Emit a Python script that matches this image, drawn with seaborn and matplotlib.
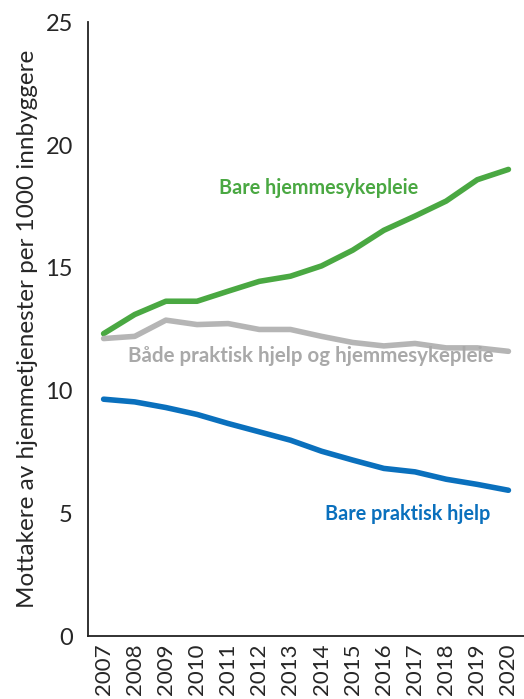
import matplotlib
matplotlib.use("Agg")
import matplotlib.pyplot as plt
import seaborn as sns
import pandas as pd

# values
years = list(range(2007, 2021))
bare_sykepleie = [12.32, 13.1, 13.64, 13.64, 14.05, 14.45, 14.66, 15.08, 15.72, 16.53, 17.11, 17.72, 18.59, 19.01]
begge = [12.12, 12.21, 12.87, 12.69, 12.73, 12.49, 12.49, 12.21, 11.96, 11.82, 11.92, 11.74, 11.74, 11.6]
bare_praktisk = [9.65, 9.54, 9.31, 9.03, 8.66, 8.32, 7.98, 7.53, 7.17, 6.83, 6.69, 6.39, 6.18, 5.94]

series_names = ["Bare hjemmesykepleie", "Både praktisk hjelp og hjemmesykepleie", "Bare praktisk hjelp"]
colors = {"Bare hjemmesykepleie": "#4aa842",
          "Både praktisk hjelp og hjemmesykepleie": "#b5b5b5",
          "Bare praktisk hjelp": "#0a70bd"}

df = pd.DataFrame({
    "year": years * 3,
    "value": bare_sykepleie + begge + bare_praktisk,
    "serie": [series_names[0]] * 14 + [series_names[1]] * 14 + [series_names[2]] * 14,
})

sns.set_style("white")
plt.rcParams["font.family"] = ["Lato", "DejaVu Sans"]

fig = plt.figure(figsize=(5.24, 6.99), dpi=100)
ax = fig.add_axes([0.168, 0.09, 0.832, 0.878])

sns.lineplot(data=df, x="year", y="value", hue="serie", palette=colors,
             linewidth=4, ax=ax, legend=False)

ax.set_xlim(2006.5, 2020.5)
ax.set_ylim(0, 25)
ax.set_yticks([0, 5, 10, 15, 20, 25])
ax.set_xticks(years)
ax.set_xticklabels([str(y) for y in years], rotation=90, fontsize=16)
ax.tick_params(axis="y", labelsize=17, length=0, pad=11)
ax.tick_params(axis="x", length=0, pad=5)
ax.set_xlabel("")
ax.set_ylabel("Mottakere av hjemmetjenester per 1000 innbyggere", fontsize=17.5, labelpad=5)

for side in ["top", "right"]:
    ax.spines[side].set_visible(False)
for side in ["left", "bottom"]:
    ax.spines[side].set_color("#222222")
    ax.spines[side].set_linewidth(1.3)

ax.text(2013.9, 18.24, "Bare hjemmesykepleie", color=colors[series_names[0]],
        fontsize=14.2, fontweight="bold", ha="center", va="center")
ax.text(2013.64, 11.4, "Både praktisk hjelp og hjemmesykepleie", color="#a9a9a9",
        fontsize=14.8, fontweight="bold", ha="center", va="center")
ax.text(2016.76, 4.97, "Bare praktisk hjelp", color=colors[series_names[2]],
        fontsize=14.2, fontweight="bold", ha="center", va="center")

fig.savefig("out.png", dpi=100)
